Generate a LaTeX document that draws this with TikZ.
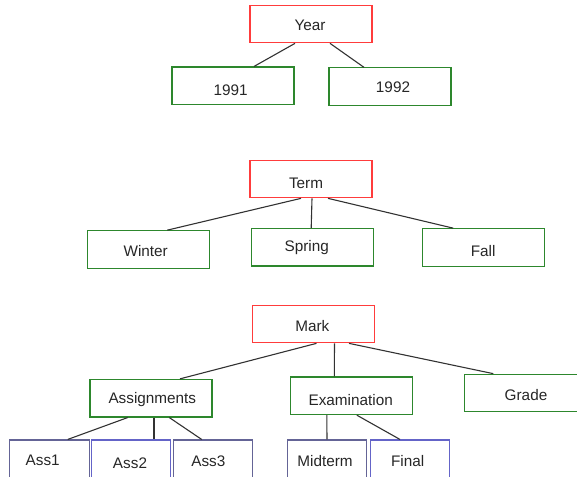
\documentclass[tikz,border=0pt]{standalone}
\usepackage{fontspec}
\setmainfont{Liberation Sans}
\definecolor{rootred}{RGB}{255,60,60}
\definecolor{midgreen}{RGB}{45,135,45}
\definecolor{leafslate}{RGB}{100,100,150}
\definecolor{leafblue}{RGB}{100,100,200}
\definecolor{linkgray}{RGB}{50,50,50}
% \lbl{dx}{baseline below centre}{text}: places a label inside its box
\newcommand\lbl[3]{\raisebox{\dimexpr-#2pt\relax}[0pt][0pt]{\makebox[0pt]{\hspace*{\dimexpr 2\dimexpr #1pt\relax\relax}#3}}}
\tikzset{
  box/.style={draw, line width=1.1pt, rectangle, inner sep=0pt,
    minimum width=122pt, minimum height=37.6pt,
    font=\fontsize{15.3}{18}\selectfont, text=black!85},
  rootbox/.style={box, draw=rootred},
  catbox/.style={box, draw=midgreen},
  leafbox/.style={box, draw=leafslate, minimum width=79.6pt, minimum height=38pt},
  leafboxb/.style={leafbox, draw=leafblue},
  link/.style={draw=linkgray, line width=1.1pt}
}
\begin{document}
\begin{tikzpicture}[x=1pt,y=-1pt]
\useasboundingbox (0,0) rectangle (577,476);
\clip (0,0) rectangle (577,476);

% Year hierarchy
\node[rootbox] (year) at (311,24) {\lbl{-1}{6.7}{Year}};
\node[catbox] (y1991) at (233,85.8) {\lbl{-2.3}{9.3}{1991}};
\node[catbox] (y1992) at (390,86.7) {\lbl{3}{6}{1992}};

% Term hierarchy
\node[rootbox] (term) at (311,179) {\lbl{-5}{9.3}{Term}};
\node[catbox] (winter) at (148.3,249.5) {\lbl{-2.6}{6.5}{Winter}};
\node[catbox] (spring) at (312.2,247.2) {\lbl{-5.5}{4.5}{Spring}};
\node[catbox] (fall) at (483.2,247.5) {\lbl{0}{8.5}{Fall}};

% Mark hierarchy
\node[rootbox] (mark) at (313.5,324) {\lbl{-1.2}{7.7}{Mark}};
\node[catbox] (assign) at (151,398.2) {\lbl{1.3}{5.1}{Assignments}};
\node[catbox] (exam) at (351.8,395.8) {\lbl{-1.1}{9.2}{Examination}};
\node[catbox] (grade) at (525.3,393) {\lbl{0.7}{7}{Grade}};
\node[leafbox] (ass1) at (49.3,459) {\lbl{-6.6}{6.7}{Ass1}};
\node[leafboxb] (ass2) at (131,459) {\lbl{-1}{9.3}{Ass2}};
\node[leafbox] (ass3) at (213,459) {\lbl{-4.7}{7.7}{Ass3}};
\node[leafbox] (midterm) at (327,459) {\lbl{-2}{7.7}{Midterm}};
\node[leafboxb] (final) at (410,459) {\lbl{-2.3}{7.7}{Final}};

% Connectors between parent and child boxes
\path[link] ([xshift=-16pt]year.south) -- ([xshift=21pt]y1991.north);
\path[link] ([xshift=19pt]year.south) -- ([xshift=-26pt]y1992.north);

\path[link] ([xshift=-10pt]term.south) -- ([xshift=19pt]winter.north);
\path[link] ([xshift=1pt]term.south) -- ([xshift=-1pt]spring.north);
\path[link] ([xshift=17pt]term.south) -- ([xshift=-30pt]fall.north);

\path[link] ([xshift=3pt]mark.south) -- ([xshift=29pt]assign.north);
\path[link] ([xshift=21pt]mark.south) -- ([xshift=-17.5pt]exam.north);
\path[link] ([xshift=35.5pt]mark.south) -- ([xshift=-32pt]grade.north);

\path[link] ([xshift=-23.3pt]assign.south) -- ([xshift=18.4pt]ass1.north);
\path[link] ([xshift=3pt]assign.south) -- ([xshift=23pt]ass2.north);
\path[link] ([xshift=18.3pt]assign.south) -- ([xshift=-11.3pt]ass3.north);

\path[link] ([xshift=-25pt]exam.south) -- ([xshift=0pt]midterm.north);
\path[link] ([xshift=5pt]exam.south) -- ([xshift=-10pt]final.north);
\end{tikzpicture}
\end{document}
